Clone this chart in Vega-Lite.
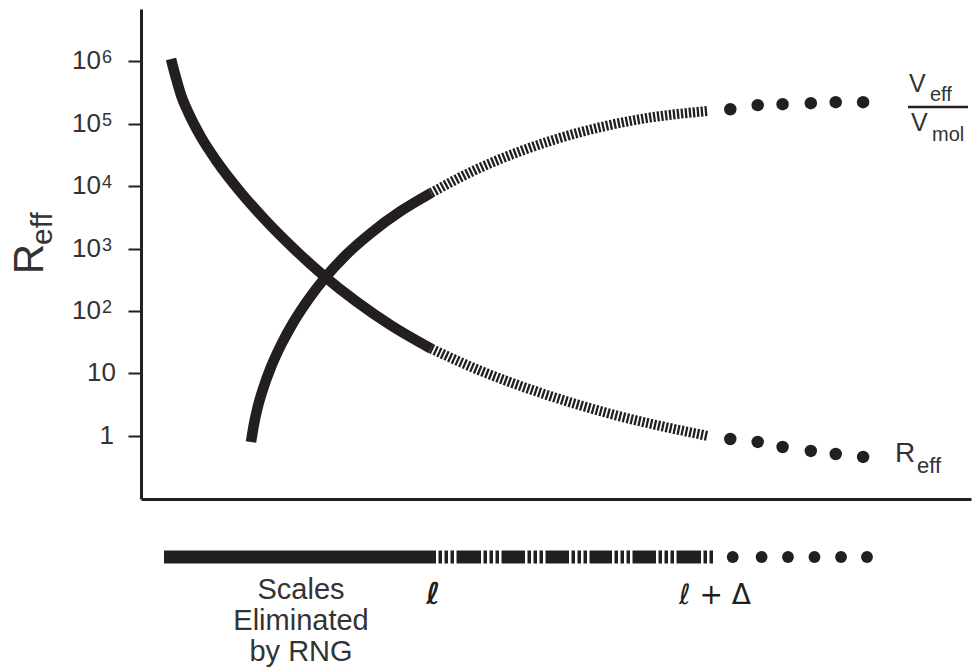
{
  "$schema": "https://vega.github.io/schema/vega-lite/v6.json",
  "background": "white",
  "padding": {"left": 8, "top": 9, "right": 3, "bottom": 0},
  "spacing": 17,
  "config": {"view": {"stroke": null}, "font": "Liberation Sans"},
  "datasets": {
    "solid": [
      {"series": "Reff", "x": 0.3614, "y": 1093000},
      {"series": "Reff", "x": 0.4217, "y": 542300},
      {"series": "Reff", "x": 0.4819, "y": 289500},
      {"series": "Reff", "x": 0.5783, "y": 143600},
      {"series": "Reff", "x": 0.7229, "y": 61420},
      {"series": "Reff", "x": 0.9036, "y": 26050},
      {"series": "Reff", "x": 1.2048, "y": 7848},
      {"series": "Reff", "x": 1.506, "y": 2791},
      {"series": "Reff", "x": 1.8675, "y": 922.4},
      {"series": "Reff", "x": 2.2048, "y": 363.2},
      {"series": "Reff", "x": 2.5904, "y": 142.7},
      {"series": "Reff", "x": 3.012, "y": 58.65},
      {"series": "Reff", "x": 3.494, "y": 24.91},
      {"series": "Veff/Vmol", "x": 1.3253, "y": 0.7925},
      {"series": "Veff/Vmol", "x": 1.3614, "y": 1.54},
      {"series": "Veff/Vmol", "x": 1.4096, "y": 2.993},
      {"series": "Veff/Vmol", "x": 1.4699, "y": 5.605},
      {"series": "Veff/Vmol", "x": 1.5663, "y": 12.63},
      {"series": "Veff/Vmol", "x": 1.6867, "y": 28.44},
      {"series": "Veff/Vmol", "x": 1.8313, "y": 64.08},
      {"series": "Veff/Vmol", "x": 2.012, "y": 149.8},
      {"series": "Veff/Vmol", "x": 2.2048, "y": 325.1},
      {"series": "Veff/Vmol", "x": 2.4699, "y": 788.6},
      {"series": "Veff/Vmol", "x": 2.7711, "y": 1776},
      {"series": "Veff/Vmol", "x": 3.1325, "y": 4000},
      {"series": "Veff/Vmol", "x": 3.494, "y": 7777}
    ],
    "hatched": [
      {"series": "Reff", "x": 3.494, "y": 24.91},
      {"series": "Reff", "x": 4.0964, "y": 10.89},
      {"series": "Reff", "x": 4.8193, "y": 4.835},
      {"series": "Reff", "x": 5.6627, "y": 2.228},
      {"series": "Reff", "x": 6.8313, "y": 0.989},
      {"series": "Veff/Vmol", "x": 3.494, "y": 7777},
      {"series": "Veff/Vmol", "x": 3.9759, "y": 16880},
      {"series": "Veff/Vmol", "x": 4.5783, "y": 36640},
      {"series": "Veff/Vmol", "x": 5.3012, "y": 73870},
      {"series": "Veff/Vmol", "x": 6.0241, "y": 119400},
      {"series": "Veff/Vmol", "x": 6.8313, "y": 160400}
    ],
    "dots": [
      {"series": "Reff", "x": 7.1, "y": 0.885},
      {"series": "Reff", "x": 7.43, "y": 0.793},
      {"series": "Reff", "x": 7.73, "y": 0.659},
      {"series": "Reff", "x": 8.07, "y": 0.569},
      {"series": "Reff", "x": 8.37, "y": 0.509},
      {"series": "Reff", "x": 8.7, "y": 0.456},
      {"series": "Veff/Vmol", "x": 7.1, "y": 171000},
      {"series": "Veff/Vmol", "x": 7.43, "y": 199000},
      {"series": "Veff/Vmol", "x": 7.73, "y": 206000},
      {"series": "Veff/Vmol", "x": 8.07, "y": 214000},
      {"series": "Veff/Vmol", "x": 8.37, "y": 222000},
      {"series": "Veff/Vmol", "x": 8.7, "y": 222000}
    ]
  },
  "vconcat": [
    {
      "width": 830,
      "height": 490,
      "layer": [
        {
          "data": {"name": "solid"},
          "mark": {"type": "line", "color": "#231f20", "strokeWidth": 10.5, "interpolate": "monotone", "strokeCap": "butt"},
          "encoding": {
            "x": {"field": "x", "type": "quantitative", "scale": {"domain": [0, 10], "nice": false, "zero": false},
                  "axis": {"title": null, "labels": false, "ticks": false, "grid": false, "domainColor": "#231f20", "domainWidth": 3}},
            "y": {"field": "y", "type": "quantitative", "scale": {"type": "log", "domain": [0.0966, 6918310], "nice": false},
                  "axis": {"title": null, "grid": false, "values": [1, 10, 100, 1000, 10000, 100000, 1000000], "labels": false,
                           "tickSize": 13, "tickWidth": 2, "tickColor": "#231f20", "domainColor": "#231f20", "domainWidth": 3}},
            "detail": {"field": "series"},
            "order": {"field": "x", "type": "quantitative"}
          }
        },
        {
          "data": {"name": "hatched"},
          "mark": {"type": "line", "color": "#231f20", "strokeWidth": 10, "interpolate": "monotone", "strokeDash": [2.3, 1.7], "strokeCap": "butt"},
          "encoding": {
            "x": {"field": "x", "type": "quantitative"},
            "y": {"field": "y", "type": "quantitative"},
            "detail": {"field": "series"},
            "order": {"field": "x", "type": "quantitative"}
          }
        },
        {
          "data": {"name": "dots"},
          "mark": {"type": "circle", "color": "#231f20", "size": 155, "opacity": 1},
          "encoding": {
            "x": {"field": "x", "type": "quantitative"},
            "y": {"field": "y", "type": "quantitative"}
          }
        },
        {
          "data": {"values": [
            {"t": "1", "x": -0.325, "y": 1},
            {"t": "10", "x": -0.301, "y": 10},
            {"t": "10", "x": -0.482, "y": 100},
            {"t": "10", "x": -0.482, "y": 1000},
            {"t": "10", "x": -0.482, "y": 10000},
            {"t": "10", "x": -0.482, "y": 100000},
            {"t": "10", "x": -0.482, "y": 1000000}
          ]},
          "mark": {"type": "text", "fontSize": 26, "align": "right", "baseline": "middle", "color": "#333333"},
          "encoding": {"x": {"field": "x", "type": "quantitative"}, "y": {"field": "y", "type": "quantitative"}, "text": {"field": "t"}}
        },
        {
          "data": {"values": [
            {"t": "2", "x": -0.47, "y": 100},
            {"t": "3", "x": -0.47, "y": 1000},
            {"t": "4", "x": -0.47, "y": 10000},
            {"t": "5", "x": -0.47, "y": 100000},
            {"t": "6", "x": -0.47, "y": 1000000}
          ]},
          "mark": {"type": "text", "fontSize": 18, "align": "left", "baseline": "top", "dy": -12, "color": "#333333"},
          "encoding": {"x": {"field": "x", "type": "quantitative"}, "y": {"field": "y", "type": "quantitative"}, "text": {"field": "t"}}
        },
        {
          "data": {"values": [{"t": "R", "x": -1.181, "y": 679}]},
          "mark": {"type": "text", "angle": 270, "fontSize": 42, "align": "center", "baseline": "alphabetic", "color": "#333333"},
          "encoding": {"x": {"field": "x", "type": "quantitative"}, "y": {"field": "y", "type": "quantitative"}, "text": {"field": "t"}}
        },
        {
          "data": {"values": [{"t": "eff", "x": -1.072, "y": 1140}]},
          "mark": {"type": "text", "angle": 270, "fontSize": 30, "align": "left", "baseline": "alphabetic", "color": "#333333"},
          "encoding": {"x": {"field": "x", "type": "quantitative"}, "y": {"field": "y", "type": "quantitative"}, "text": {"field": "t"}}
        },
        {
          "data": {"values": [{"t": "V", "x": 9.253, "y": 323000}, {"t": "V", "x": 9.277, "y": 76600}]},
          "mark": {"type": "text", "fontSize": 25, "align": "left", "baseline": "alphabetic", "color": "#333333"},
          "encoding": {"x": {"field": "x", "type": "quantitative"}, "y": {"field": "y", "type": "quantitative"}, "text": {"field": "t"}}
        },
        {
          "data": {"values": [{"t": "eff", "x": 9.506, "y": 232000}, {"t": "mol", "x": 9.53, "y": 53000}]},
          "mark": {"type": "text", "fontSize": 20, "align": "left", "baseline": "alphabetic", "color": "#333333"},
          "encoding": {"x": {"field": "x", "type": "quantitative"}, "y": {"field": "y", "type": "quantitative"}, "text": {"field": "t"}}
        },
        {
          "data": {"values": [{"t": "R", "x": 9.084, "y": 0.378}]},
          "mark": {"type": "text", "fontSize": 28, "align": "left", "baseline": "alphabetic", "color": "#333333"},
          "encoding": {"x": {"field": "x", "type": "quantitative"}, "y": {"field": "y", "type": "quantitative"}, "text": {"field": "t"}}
        },
        {
          "data": {"values": [{"t": "eff", "x": 9.349, "y": 0.252}]},
          "mark": {"type": "text", "fontSize": 22, "align": "left", "baseline": "alphabetic", "color": "#333333"},
          "encoding": {"x": {"field": "x", "type": "quantitative"}, "y": {"field": "y", "type": "quantitative"}, "text": {"field": "t"}}
        },
        {
          "data": {"values": [{"x": 9.241, "x2": 9.964, "y": 185800}]},
          "mark": {"type": "rule", "color": "#231f20", "strokeWidth": 2.5},
          "encoding": {"x": {"field": "x", "type": "quantitative"}, "x2": {"field": "x2"}, "y": {"field": "y", "type": "quantitative"}}
        }
      ]
    },
    {
      "width": 830,
      "height": 150,
      "layer": [
        {
          "data": {"values": [
            {"x": 3.5542, "x2": 3.8012},
            {"x": 4.0964, "x2": 4.3434},
            {"x": 4.6265, "x2": 4.8735},
            {"x": 5.1566, "x2": 5.4036},
            {"x": 5.6747, "x2": 5.9217},
            {"x": 6.2048, "x2": 6.4518},
            {"x": 6.747, "x2": 6.8916}
          ]},
          "mark": {"type": "rule", "color": "#231f20", "strokeWidth": 13, "strokeDash": [3.5, 2.5], "strokeDashOffset": 3.5, "strokeCap": "butt"},
          "encoding": {
            "x": {"field": "x", "type": "quantitative", "scale": {"domain": [0, 10], "nice": false, "zero": false}, "axis": null},
            "x2": {"field": "x2"},
            "y": {"datum": 41, "type": "quantitative", "scale": {"domain": [0, 150], "nice": false, "zero": false, "reverse": true}, "axis": null}
          }
        },
        {
          "data": {"values": [
            {"x": 0.2771, "x2": 3.5542},
            {"x": 3.8012, "x2": 4.0964},
            {"x": 4.3434, "x2": 4.6265},
            {"x": 4.8735, "x2": 5.1566},
            {"x": 5.4036, "x2": 5.6747},
            {"x": 5.9217, "x2": 6.2048},
            {"x": 6.4518, "x2": 6.747}
          ]},
          "mark": {"type": "rect", "color": "#231f20"},
          "encoding": {
            "x": {"field": "x", "type": "quantitative"},
            "x2": {"field": "x2"},
            "y": {"datum": 34.5, "type": "quantitative"},
            "y2": {"datum": 47.5}
          }
        },
        {
          "data": {"values": [{"x": 7.129}, {"x": 7.477}, {"x": 7.795}, {"x": 8.114}, {"x": 8.434}, {"x": 8.747}]},
          "mark": {"type": "circle", "color": "#231f20", "size": 140, "opacity": 1},
          "encoding": {
            "x": {"field": "x", "type": "quantitative"},
            "y": {"datum": 41, "type": "quantitative"}
          }
        },
        {
          "data": {"values": [
            {"t": "Scales", "x": 1.928, "y": 83},
            {"t": "Eliminated", "x": 1.928, "y": 114},
            {"t": "by RNG", "x": 1.928, "y": 145}
          ]},
          "mark": {"type": "text", "fontSize": 29, "align": "center", "baseline": "alphabetic", "color": "#333333"},
          "encoding": {"x": {"field": "x", "type": "quantitative"}, "y": {"field": "y", "type": "quantitative"}, "text": {"field": "t"}}
        },
        {
          "data": {"values": [
            {"t": "ℓ", "x": 3.518, "y": 88}
          ]},
          "mark": {"type": "text", "fontSize": 30, "align": "center", "baseline": "alphabetic", "color": "#231f20", "fontStyle": "italic", "fontWeight": "bold", "font": "DejaVu Sans"},
          "encoding": {"x": {"field": "x", "type": "quantitative"}, "y": {"field": "y", "type": "quantitative"}, "text": {"field": "t"}}
        },
        {
          "data": {"values": [
            {"t": "ℓ + Δ", "x": 6.482, "y": 88}
          ]},
          "mark": {"type": "text", "fontSize": 28, "align": "left", "baseline": "alphabetic", "color": "#231f20", "font": "DejaVu Sans"},
          "encoding": {"x": {"field": "x", "type": "quantitative"}, "y": {"field": "y", "type": "quantitative"}, "text": {"field": "t"}}
        }
      ]
    }
  ]
}
